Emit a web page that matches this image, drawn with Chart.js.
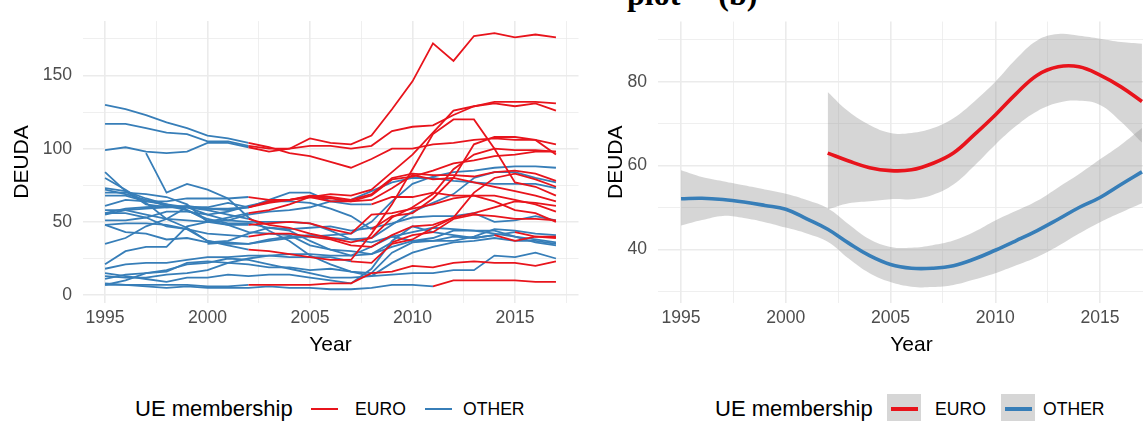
<!DOCTYPE html>
<html>
<head>
<meta charset="utf-8">
<script src="https://cdn.jsdelivr.net/npm/chart.js@4.4.1/dist/chart.umd.min.js"></script>
<style>
  html, body { margin: 0; padding: 0; background: #fff; overflow: hidden; width: 1143px; height: 421px; }
  body { position: relative; font-family: "Liberation Sans", Arial, sans-serif; color: #000; }
  canvas { position: absolute; top: 0; }
  #left { left: 0; }
  #right { left: 590px; }
  .title { position: absolute; top: -22px; left: 627px; font: bold 32px "Liberation Serif", serif; line-height: 1; word-spacing: 30px; white-space: nowrap; }
  .lg { position: absolute; top: 394px; height: 30px; line-height: 30px; white-space: nowrap; }
  .lgtitle { font-size: 22px; }
  .lglabel { font-size: 17.6px; }
  .key { position: absolute; top: 394px; width: 34px; height: 30px; }
  .key i { position: absolute; left: 3.5px; width: 27px; }
</style>
</head>
<body>
<div class="title">plot (b)</div>
<canvas id="left" width="590" height="358"></canvas>
<canvas id="right" width="590" height="358"></canvas>

<div class="lg lgtitle" style="left:135px">UE membership</div>
<div class="key" style="left:307px"><i style="top:14px;height:2px;background:#e8141c"></i></div>
<div class="lg lglabel" style="left:355px">EURO</div>
<div class="key" style="left:421px"><i style="top:14px;height:2px;background:#377eb8"></i></div>
<div class="lg lglabel" style="left:463px">OTHER</div>

<div class="lg lgtitle" style="left:715px">UE membership</div>
<div class="key" style="left:887px;background:#d6d6d6"><i style="top:13px;height:4px;background:#e8141c"></i></div>
<div class="lg lglabel" style="left:935px">EURO</div>
<div class="key" style="left:1001px;background:#d6d6d6"><i style="top:13px;height:4px;background:#377eb8"></i></div>
<div class="lg lglabel" style="left:1043px">OTHER</div>

<script>
const years = [1995,1996,1997,1998,1999,2000,2001,2002,2003,2004,2005,2006,2007,2008,2009,2010,2011,2012,2013,2014,2015,2016,2017];

// left panel: debt per country, 1995-2017
const belgium     = [130,127,123,118,114,109,107,104,101,97,95,91,87,93,100,100,103,104,106,107,106,106,103];
const italy       = [117,117,114,111,110,105,105,102,100,100,102,102,100,102,112,115,116,123,129,132,132,132,131];
const greece      = [99,101,98,97,98,104,104,101,98,100,107,104,103,109,127,146,172,160,177,179,176,178,176];
const portugal    = [58,58,55,52,51,50,53,56,58,62,67,69,68,72,84,96,111,126,129,131,129,131,126];
const ireland     = [80,72,63,52,46,37,34,31,30,28,26,24,24,42,62,86,110,120,120,100,77,74,68];
const spain       = [61,65,64,62,60,58,55,52,48,46,42,39,36,39,53,60,69,86,96,100,99,99,98];
const france      = [56,59,60,61,60,59,59,60,64,65,67,64,64,68,79,81,85,90,92,95,96,98,98];
const germany     = [55,58,59,60,61,59,58,60,63,65,67,66,64,65,73,82,79,80,77,74,71,68,64];
const netherlands = [73,71,66,62,58,51,48,48,49,50,49,45,42,55,56,59,62,66,68,68,65,62,57];
const austria     = [68,68,64,64,66,66,66,67,65,65,68,67,65,69,80,83,82,82,81,84,85,83,78];
const finland     = [56,56,53,47,45,42,41,40,42,42,40,38,34,33,41,47,48,53,56,60,64,63,61];
const luxembourg  = [7,7,7,7,7,6,6,7,7,7,7,8,8,15,16,20,19,22,23,22,22,20,23];
const slovenia    = [18,21,22,22,24,26,26,27,27,26,26,26,23,22,35,38,46,53,70,80,83,79,74];
const cyprus      = [51,51,53,57,57,55,57,61,64,64,63,59,54,45,54,56,66,80,103,108,108,106,96];
const malta       = [35,39,47,52,60,60,63,60,65,70,70,64,62,62,67,67,70,68,68,64,58,56,50];
const slovakia    = [21,30,33,33,47,50,48,43,42,41,34,31,30,28,36,41,43,52,55,54,52,52,51];
const estonia     = [8,7,6,5,6,5,5,5,6,5,5,4,4,5,7,7,6,10,10,10,10,9,9];
const latvia      = [15,13,11,9,12,12,14,13,14,14,12,10,8,18,37,47,43,41,39,41,37,40,39];
const lithuania   = [11,14,15,16,22,23,22,21,19,19,17,18,16,15,29,36,37,40,39,41,43,40,40];
const uk          = [48,49,49,48,45,37,35,35,37,39,40,41,42,50,64,76,81,84,85,87,88,88,87];
const sweden      = [70,70,69,67,62,50,51,50,50,50,49,44,38,36,40,37,37,37,40,45,44,42,41];
const denmark     = [72,69,65,61,58,52,49,49,46,44,37,31,27,33,40,43,46,45,44,44,40,38,36];
const hungary     = [84,71,62,60,60,55,51,55,57,58,60,64,65,71,77,80,80,78,77,76,76,76,73];
const poland      = [48,43,42,38,39,36,37,42,46,45,46,47,44,46,49,53,54,54,56,50,51,54,51];
const czechia     = [13,12,12,14,15,17,22,25,27,28,28,27,27,28,33,37,39,44,44,42,40,36,34];
const romania     = [7,10,15,17,21,22,25,24,21,18,15,12,12,13,22,29,33,36,37,39,37,37,35];
const bulgaria    = [null,null,97,70,76,72,66,53,44,37,27,21,16,13,14,15,15,17,17,27,26,29,25];
const croatia     = [null,null,null,null,null,35,36,35,38,40,41,39,38,39,48,57,63,69,80,84,84,80,77];

const countrySeries = [belgium, italy, greece, portugal, ireland, spain, france, germany, netherlands,
  austria, finland, luxembourg, slovenia, cyprus, malta, slovakia, estonia, latvia, lithuania,
  uk, sweden, denmark, hungary, poland, czechia, romania, bulgaria, croatia];
// first year counted as EURO (9999 = never)
const euroFrom = [2002,2002,2002,2002,2002,2002,2002,2002,2002,2002,2002,2002,2007,2008,2008,2009,2011,2014,2015,
  9999,9999,9999,9999,9999,9999,9999,9999,9999];

// right panel: smoothed fits with confidence band
const euroYears = [2002,2003,2004,2005,2006,2007,2008,2009,2010,2011,2012,2013,2014,2015,2016,2017];
const euroFit  = [63.0,61.1,59.5,58.8,59.0,60.5,63.0,67.4,72.1,77.2,81.6,83.6,83.6,81.6,78.8,75.3];
const euroLow  = [49.5,51.0,51.5,52.0,52.0,53.0,55.5,60.0,65.0,69.5,73.0,75.0,75.5,74.5,70.5,65.5];
const euroHigh = [77.6,72.9,69.7,67.8,67.8,68.9,71.3,75.3,80.0,85.5,89.9,91.4,91.0,90.3,89.5,89.1];
const otherFit  = [52.1,52.2,51.9,51.3,50.5,49.6,47.3,44.8,41.5,38.5,36.4,35.5,35.5,36.1,37.7,39.8,42.1,44.5,47.2,50.0,52.4,55.5,58.5];
const otherLow  = [45.7,47.0,48.0,47.5,46.5,45.2,43.8,41.8,37.8,34.3,32.2,31.1,31.0,31.5,32.8,34.3,36.2,38.2,40.8,43.8,46.5,48.8,51.0];
const otherHigh = [58.9,57.3,56.3,55.3,54.3,53.3,51.8,49.8,46.0,42.4,40.6,40.4,41.0,42.1,44.2,46.9,49.2,51.6,54.8,58.0,61.5,65.0,69.0];

const xTicks = [1995,1997.5,2000,2002.5,2005,2007.5,2010,2012.5,2015,2017.5];
const leftYTicks = [0,25,50,75,100,125,150,175];
const rightYTicks = [30,40,50,60,70,80,90];

const RED = '#e8141c';
const BLUE = '#377eb8';
const BAND = 'rgba(153,153,153,0.4)';

Chart.defaults.font.family = '"Liberation Sans", Arial, sans-serif';

function toPoints(xs, ys) {
  return xs.map((x, i) => ({ x: x, y: ys[i] }));
}

function baseScales(yMin, yMax, yTicks, yMajor, yWidth, yTitlePad, yTickPad) {
  return {
    x: {
      type: 'linear', min: 1993.9, max: 2018.1,
      afterBuildTicks: axis => { axis.ticks = xTicks.map(v => ({ value: v })); },
      afterFit: axis => { axis.height = 55; },
      ticks: {
        autoSkip: false, maxRotation: 0, padding: 4.5, color: '#4d4d4d', font: { size: 17.6 },
        callback: v => (v % 5 === 0 ? String(v) : '')
      },
      grid: {
        drawTicks: false, color: '#ebebeb',
        lineWidth: c => (c.tick && c.tick.value % 5 === 0 ? 1.6 : 0.8)
      },
      border: { display: false },
      title: { display: true, text: 'Year', color: '#000', font: { size: 21 }, padding: { top: 0, bottom: 0 } }
    },
    y: {
      type: 'linear', min: yMin, max: yMax,
      afterBuildTicks: axis => { axis.ticks = yTicks.map(v => ({ value: v })); },
      afterFit: axis => { axis.width = yWidth; },
      ticks: {
        autoSkip: false, padding: yTickPad, color: '#4d4d4d', font: { size: 17.6 },
        callback: v => (v % yMajor === 0 ? String(v) : '')
      },
      grid: {
        drawTicks: false, color: '#ebebeb',
        lineWidth: c => (c.tick && c.tick.value % yMajor === 0 ? 1.6 : 0.8)
      },
      border: { display: false },
      title: { display: true, text: 'DEUDA', color: '#000', font: { size: 21 }, padding: { top: yTitlePad, bottom: 0 } }
    }
  };
}

// left: one line per country, red from the year it uses the euro
const leftDatasets = countrySeries.map((vals, k) => ({
  data: toPoints(years, vals),
  borderColor: BLUE,
  borderWidth: 1.8,
  pointRadius: 0,
  spanGaps: false,
  segment: {
    borderColor: ctx => (years[ctx.p0DataIndex] >= euroFrom[k] ? RED : BLUE)
  }
}));

new Chart(document.getElementById('left'), {
  type: 'line',
  data: { datasets: leftDatasets },
  options: {
    responsive: false,
    animation: false,
    layout: { padding: { top: 19, right: 11.5, left: 0, bottom: 0 } },
    plugins: { legend: { display: false }, tooltip: { enabled: false } },
    elements: { line: { tension: 0 } },
    scales: baseScales(-5.4, 187.2, leftYTicks, 50, 82.5, 10, 10.5)
  }
});

// right: loess-like fits with grey bands
new Chart(document.getElementById('right'), {
  type: 'line',
  data: {
    datasets: [
      { data: toPoints(euroYears, euroFit), borderColor: RED, borderWidth: 3.6, pointRadius: 0, order: 0 },
      { data: toPoints(years, otherFit), borderColor: BLUE, borderWidth: 3.6, pointRadius: 0, order: 0 },
      { data: toPoints(euroYears, euroHigh), borderWidth: 0, pointRadius: 0, backgroundColor: BAND, fill: '+1', order: 1 },
      { data: toPoints(euroYears, euroLow), borderWidth: 0, pointRadius: 0, fill: false, order: 1 },
      { data: toPoints(years, otherHigh), borderWidth: 0, pointRadius: 0, backgroundColor: BAND, fill: '+1', order: 1 },
      { data: toPoints(years, otherLow), borderWidth: 0, pointRadius: 0, fill: false, order: 1 }
    ]
  },
  options: {
    responsive: false,
    animation: false,
    layout: { padding: { top: 19, right: 15, left: 0, bottom: 0 } },
    plugins: { legend: { display: false }, tooltip: { enabled: false } },
    elements: { line: { tension: 0.4 } },
    scales: baseScales(27.2, 94.4, rightYTicks, 20, 68, 14, 11)
  }
});
</script>
</body>
</html>
